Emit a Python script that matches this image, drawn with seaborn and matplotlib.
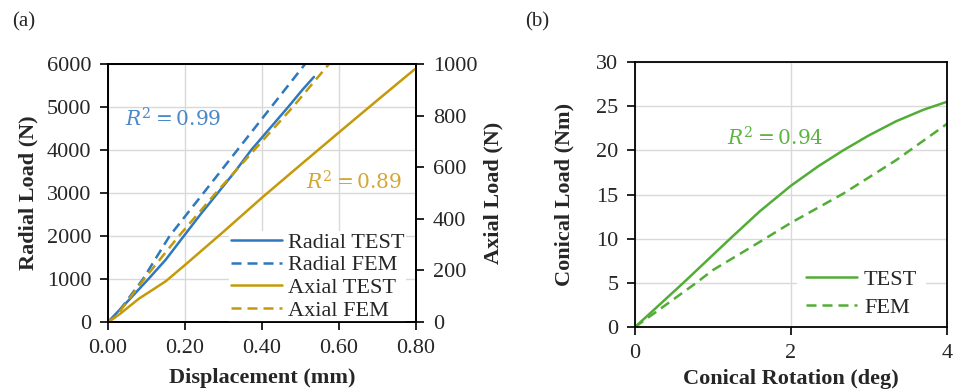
import numpy as np
import pandas as pd
import seaborn as sns
import matplotlib.pyplot as plt

# (a) radial / axial load vs displacement
radial_test_x = [0, 0.05, 0.105, 0.15, 0.197, 0.24, 0.285, 0.33, 0.372, 0.42, 0.468, 0.505, 0.535]
radial_test_y = [0, 470, 1000, 1450, 2000, 2500, 3000, 3500, 4000, 4500, 5000, 5400, 5700]
radial_fem_x = [0, 0.02, 0.091, 0.16, 0.248, 0.336, 0.424, 0.512]
radial_fem_y = [0, 150, 1000, 2000, 3000, 4000, 5000, 6000]
axial_test_x = [0, 0.03, 0.08, 0.15, 0.2, 0.3, 0.4, 0.5, 0.6, 0.7, 0.797]
axial_test_y = [0, 30, 90, 158, 221, 350, 482, 609, 735, 860, 980]
axial_fem_x = [0, 0.02, 0.094, 0.184, 0.28, 0.38, 0.48, 0.574]
axial_fem_y = [0, 20, 167, 333, 500, 667, 833, 1000]

# (b) conical load vs rotation
conical_test_x = [0, 0.2, 0.62, 1.22, 1.6, 2.0, 2.35, 2.67, 3.0, 3.35, 3.7, 4.0]
conical_test_y = [0, 1.6, 5.0, 10.0, 13.1, 16.0, 18.2, 20.0, 21.7, 23.3, 24.6, 25.5]
conical_fem_x = [0, 0.3, 0.77, 1.0, 1.5, 2.0, 2.67, 3.35, 4.0]
conical_fem_y = [0, 1.9, 4.9, 6.45, 9.1, 11.8, 15.1, 18.9, 23.0]

BLUE = "#2f78bd"
GOLD = "#c49a0a"
GREEN = "#52ad36"

sns.set_theme(style="white")
plt.rcParams["font.family"] = ["Liberation Serif", "DejaVu Serif"]
plt.rcParams["mathtext.fontset"] = "dejavuserif"
plt.rcParams["axes.unicode_minus"] = False

fig = plt.figure(figsize=(9.57, 3.92), dpi=100)
ax = fig.add_axes([108 / 957, 1 - 322 / 392, 308 / 957, 258 / 392])
ax2 = ax.twinx()
bx = fig.add_axes([635 / 957, 1 - 327 / 392, 312 / 957, 265 / 392])

lw = 1.8
dash = (0, (4, 2.4))

sns.lineplot(x=radial_test_x, y=radial_test_y, ax=ax, color=BLUE, lw=lw, label="Radial TEST")
sns.lineplot(x=radial_fem_x, y=radial_fem_y, ax=ax, color=BLUE, lw=lw, ls=dash, label="Radial FEM")
sns.lineplot(x=axial_test_x, y=axial_test_y, ax=ax2, color=GOLD, lw=lw, label="Axial TEST")
sns.lineplot(x=axial_fem_x, y=axial_fem_y, ax=ax2, color=GOLD, lw=lw, ls=dash, label="Axial FEM")

sns.lineplot(x=conical_test_x, y=conical_test_y, ax=bx, color=GREEN, lw=lw, label="TEST")
sns.lineplot(x=conical_fem_x, y=conical_fem_y, ax=bx, color=GREEN, lw=lw, ls=dash, label="FEM")

# axes ranges / ticks
ax.set_xlim(0, 0.8)
ax.set_ylim(0, 6000)
ax.set_xticks(np.arange(0, 0.81, 0.2))
ax.set_xticklabels([f"{v:.2f}" for v in np.arange(0, 0.81, 0.2)])
ax.set_yticks(range(0, 6001, 1000))
ax2.set_ylim(0, 1000)
ax2.set_yticks(range(0, 1001, 200))
bx.set_xlim(0, 4)
bx.set_ylim(0, 30)
bx.set_xticks([0, 2, 4])
bx.set_yticks(range(0, 31, 5))

for a in (ax, bx):
    a.grid(True, color="#d9d9d9", lw=1)
    a.set_axisbelow(True)
    a.tick_params(axis="both", direction="out", length=6, width=1.2, color="black",
                  labelsize=16, pad=6, left=True, bottom=True)
    for s in a.spines.values():
        s.set_color("black")
        s.set_linewidth(1.3)
ax2.grid(False)
ax2.tick_params(axis="y", direction="out", length=6, width=1.2, color="black",
                labelsize=16, pad=6, right=True)
for s in ax2.spines.values():
    s.set_color("black")
    s.set_linewidth(1.3)

# labels
lab = dict(fontsize=16, fontweight="bold")
ax.set_xlabel("Displacement (mm)", **lab)
ax.set_ylabel("Radial Load (N)", **lab)
ax2.set_ylabel("Axial Load (N)", **lab)
bx.set_xlabel("Conical Rotation (deg)", **lab)
bx.set_ylabel("Conical Load (Nm)", **lab)
ax.xaxis.set_label_coords(0.5, -0.18)
ax.yaxis.set_label_coords(-0.227, 0.5)
ax2.yaxis.set_label_coords(1.22, 0.5)
bx.xaxis.set_label_coords(0.5, -0.16)
bx.yaxis.set_label_coords(-0.195, 0.5)

# R^2 annotations
ax.text(0.044, 4700, r"$R^2 = 0.99$", color="#4a88c7", fontsize=14.5, va="center")
ax2.text(0.514, 539, r"$R^2 = 0.89$", color="#d4a734", fontsize=14.5, va="center")
bx.text(1.18, 21.3, r"$R^2 = 0.94$", color="#5db544", fontsize=14.5, va="center")

# legends (white box above the lines, below the spines)
ax.get_legend().remove()
h1, l1 = ax.get_legend_handles_labels()
h2, l2 = ax2.get_legend_handles_labels()
leg_a = ax2.legend(h1 + h2, l1 + l2, loc="lower right", bbox_to_anchor=(0.9675, 0.0),
                   fontsize=16, frameon=True, facecolor="white", edgecolor="none", framealpha=1,
                   fancybox=False, handlelength=2.3, handletextpad=0.3, labelspacing=0.1,
                   borderpad=0.05, borderaxespad=0.0)
leg_a.set_zorder(2.4)
leg_b = bx.legend(loc="lower right", bbox_to_anchor=(0.933, 0.0),
                  fontsize=16, frameon=True, facecolor="white", edgecolor="none", framealpha=1,
                  fancybox=False, handlelength=2.3, handletextpad=0.3, labelspacing=0.35,
                  borderpad=0.4, borderaxespad=0.0)
leg_b.set_zorder(2.4)

fig.text(12 / 957, 1 - 22 / 392, "(a)", fontsize=15, va="center")
fig.text(525 / 957, 1 - 22 / 392, "(b)", fontsize=15, va="center")

fig.savefig("out.png", dpi=100)
